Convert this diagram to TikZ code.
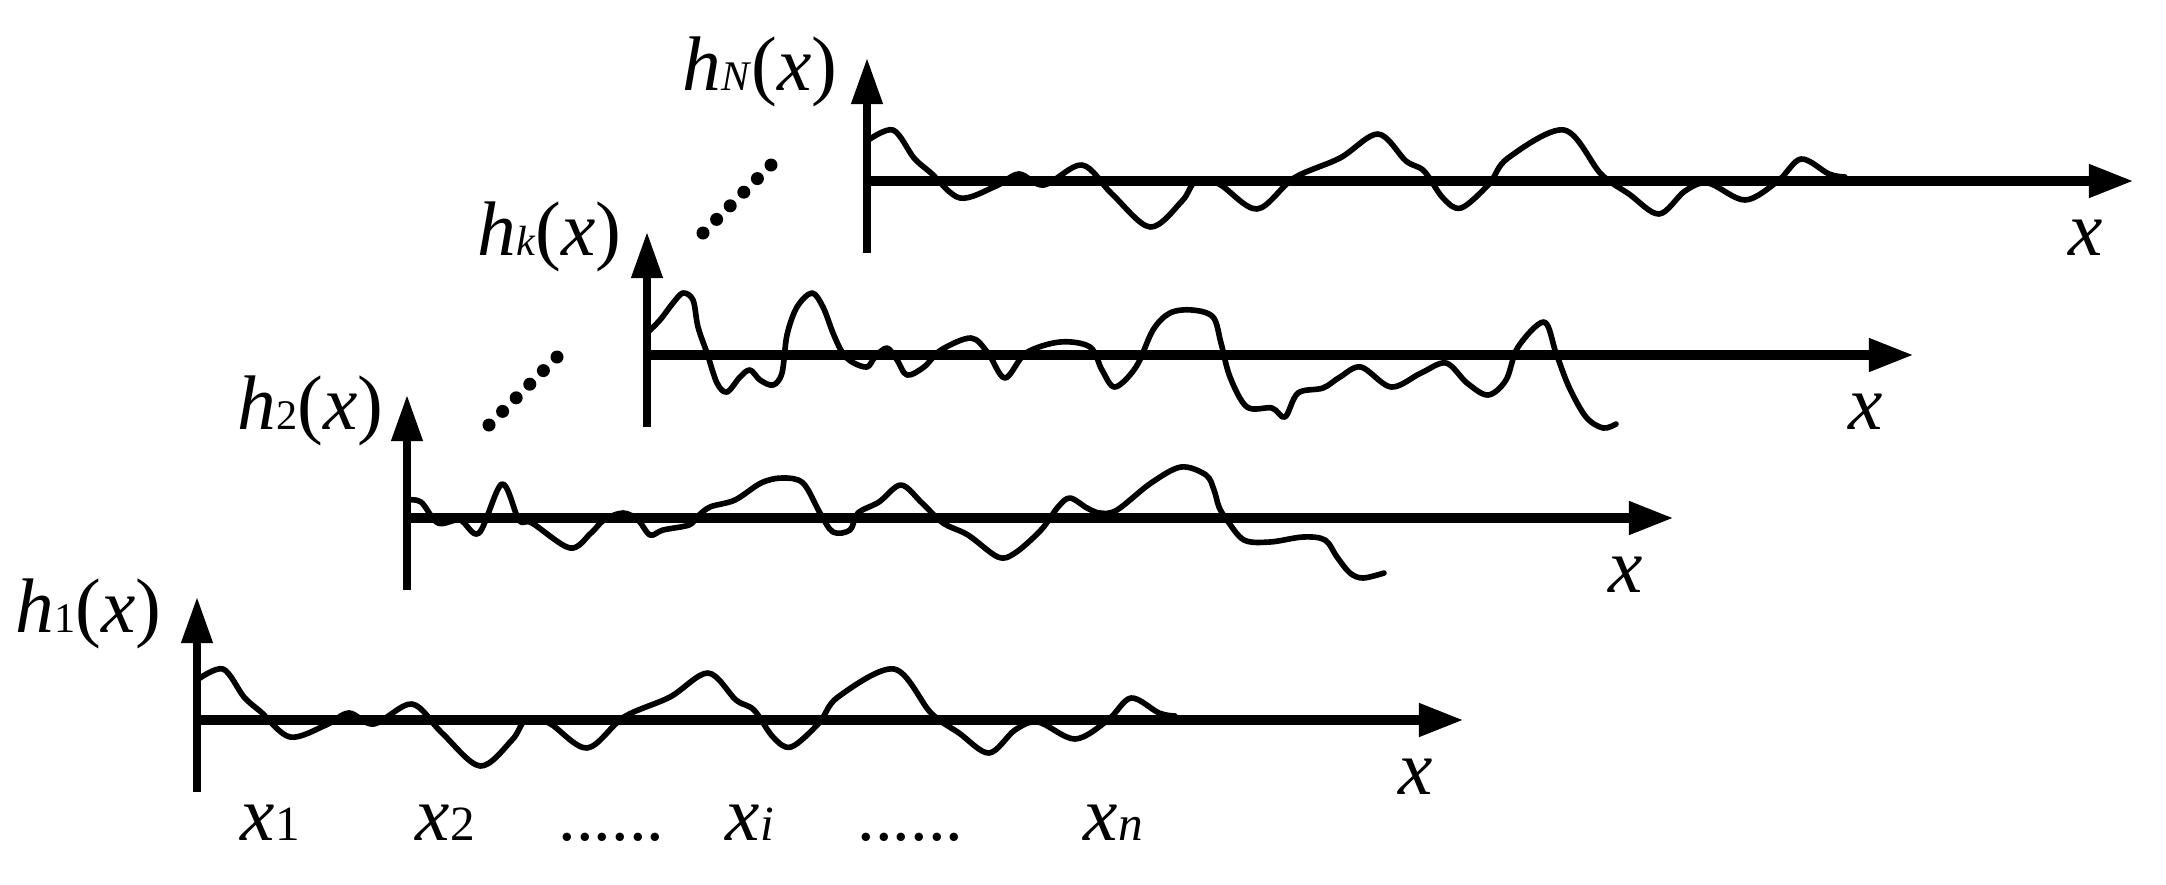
\documentclass[tikz,border=0pt]{standalone}
\usepackage{fontspec}
\setmainfont{Liberation Serif}
\usetikzlibrary{arrows.meta}
\newcommand\subsz[1]{{\fontsize{12}{12}\selectfont #1}}
\newcommand\subx[1]{{\fontsize{14}{14}\selectfont #1}}
\newcommand\drawpanel[3]{%
  \path (#2,#3) coordinate (#1o) ++(0,72) coordinate (#1b) ++(0,-195) coordinate (#1u) ++(1267,123) coordinate (#1t);
  \draw[vax] (#1b) -- (#1u);
  \draw[hax] (#1o) -- (#1t);
  \node[xl] (#1x) at ([shift={(-48,57)}]#1t) {\textit{x}};
}
\newcommand\curveA[1]{%
  \begin{scope}[shift={(#1)}]
  \draw[prof] plot[smooth,tension=0.55] coordinates {(0,-40) (26,-51) (47,-23) (64,-8) (93,17) (129,5) (152,-7) (177,4) (215,-16) (245,13) (283,46) (315,20) (329,0) (352,3) (390,28) (427,-3) (473,-23) (511,-47) (539,-20) (557,-10) (576,17) (594,27) (622,3) (641,-23) (697,-51) (734,-7) (762,13) (792,33) (818,10) (841,2) (878,19) (911,0) (934,-22) (962,-7) (978,-4)};
  \end{scope}}
\begin{document}
\begin{tikzpicture}[x=0.01cm,y=-0.01cm,
  hax/.style={line width=2.85pt,-{Triangle[length=0.45cm,width=0.31cm]}},
  vax/.style={line width=2.1pt,-{Triangle[length=0.46cm,width=0.30cm]}},
  prof/.style={line width=1.6pt,line join=round,line cap=round},
  lab/.style={inner sep=0pt,anchor=base west,font=\fontsize{22}{22}\selectfont},
  xl/.style={inner sep=0pt,font=\fontsize{22}{22}\selectfont},
  xb/.style={inner sep=0pt,anchor=base west,font=\fontsize{22}{22}\selectfont},
  dotc/.style={fill=black,circle,inner sep=0pt,minimum size=0.13cm}]
\useasboundingbox (0,0) rectangle (2166,884);
% axes
\drawpanel{p1}{197}{720}
\drawpanel{p2}{407}{518}
\drawpanel{pk}{647}{355}
\drawpanel{pN}{867}{181}
% profiles
\curveA{p1o}
\curveA{pNo}
\begin{scope}[shift={(p2o)}]
\draw[prof] plot[smooth,tension=0.55] coordinates {(0,-18) (14,-16) (31,5) (53,2) (72,15) (95,-34) (112,2) (125,5) (163,30) (184,15) (197,2) (216,-5) (231,2) (243,17) (256,12) (282,7) (290,-1) (303,-11) (328,-18) (354,-35) (375,-40) (396,-35) (413,-5) (426,14) (443,12) (451,-5) (472,-16) (494,-33) (515,-15) (536,5) (561,17) (591,39) (608,35) (634,12) (651,-11) (663,-20) (680,-10) (693,-5) (710,-8) (744,-35) (774,-51) (799,-43) (807,-28) (812,-11) (820,2) (837,22) (863,24) (896,19) (918,22) (930,39) (943,55) (956,60) (977,55)};
\end{scope}
\begin{scope}[shift={(pko)}]
\draw[prof] plot[smooth,tension=0.55] coordinates {(0,-22) (13,-35) (26,-52) (36,-62) (46,-55) (51,-28) (60,-2) (70,28) (80,37) (93,22) (103,15) (113,25) (126,30) (135,18) (140,-20) (150,-48) (165,-62) (176,-48) (186,-22) (195,-3) (205,7) (220,12) (228,2) (240,-7) (250,5) (260,20) (277,12) (294,-5) (324,-17) (341,-2) (358,23) (379,-2) (413,-13) (443,-8) (455,15) (468,32) (489,12) (506,-25) (523,-42) (545,-45) (566,-38) (574,-12) (583,22) (600,52) (625,53) (638,62) (651,38) (676,33) (693,22) (714,12) (744,32) (774,18) (799,8) (820,28) (841,40) (859,25) (871,-8) (897,-33) (909,-2) (922,32) (939,62) (956,73) (969,69)};
\end{scope}
% axis labels
\node[lab] (l1) at (15,632) {\textit{h}\subsz{1}(\textit{x})};
\node[lab] (l2) at (237,429) {\textit{h}\subsz{2}(\textit{x})};
\node[lab] (lk) at (477,255) {\textit{h}\subsz{\textit{k}}(\textit{x})};
\node[lab] (lN) at (682,90) {\textit{h}\subsz{\textit{N}}(\textit{x})};
% diagonal dots
\foreach \i in {0,...,5} {
  \node[dotc] (da\i) at (489+13.6*\i,425-13.6*\i) {};
  \node[dotc] (db\i) at (703+13.6*\i,233-13.6*\i) {};
}
% x positions
\node[xb] (x1) at (240,840) {\textit{x}\subx{1}};
\node[xb] (x2) at (415,840) {\textit{x}\subx{2}};
\node[xb,font=\fontsize{20}{20}\selectfont] (dd1) at (558,840) {......};
\node[xb] (xi) at (725,840) {\textit{x}\subx{\textit{i}}};
\node[xb,font=\fontsize{20}{20}\selectfont] (dd2) at (857,840) {......};
\node[xb] (xn) at (1083,840) {\textit{x}\subx{\textit{n}}};
\end{tikzpicture}
\end{document}
